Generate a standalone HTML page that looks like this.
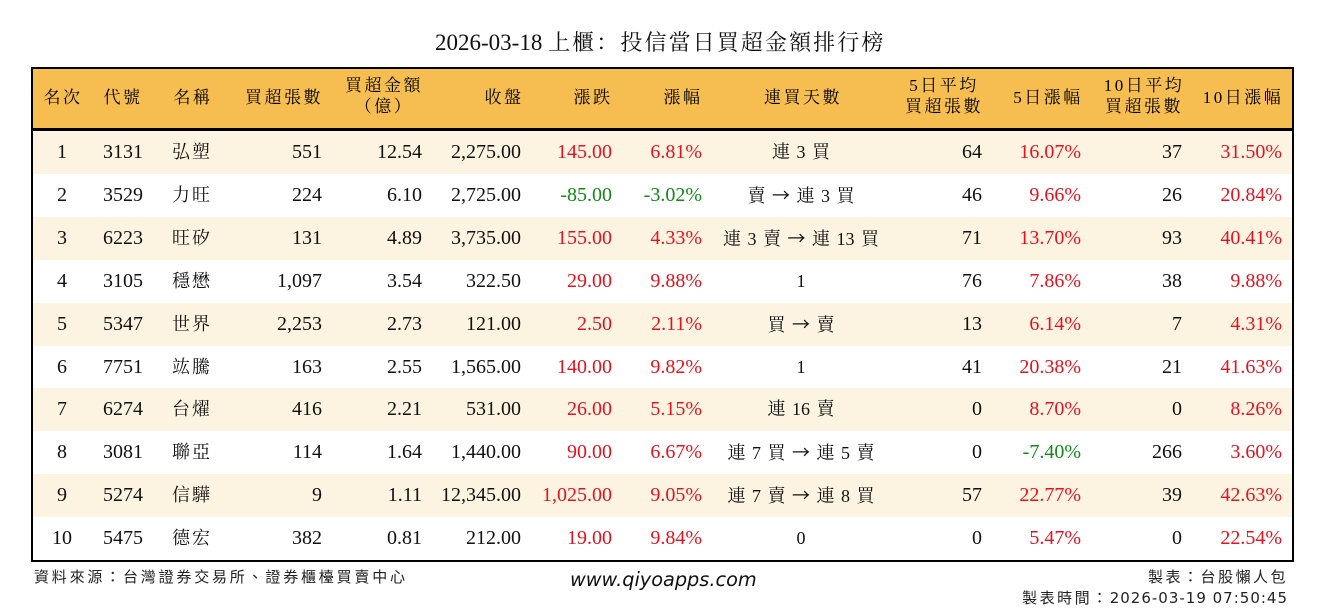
<!DOCTYPE html>
<html><head><meta charset="utf-8">
<style>
*{margin:0;padding:0;box-sizing:border-box}
body{width:1324px;height:612px;background:#fff;position:relative;overflow:hidden;font-family:"Liberation Serif","Noto Serif CJK SC",serif;color:#111}
.abs{position:absolute}
.title{left:435px;top:28px;font-size:23px;line-height:30px;white-space:nowrap;color:#111}
.title .cj{letter-spacing:2.1px;font-size:22px}
.box{left:31px;top:67px;width:1263px;height:495px;border:2px solid #000}
.hdr{left:33px;top:69px;width:1259px;height:59px;background:#F6BE50}
.hline{left:33px;top:128px;width:1259px;height:3px;background:#000}
.h{position:absolute;font-size:17px;letter-spacing:2.5px;white-space:nowrap;text-align:center;width:120px;line-height:20px;color:#000}
.row{position:absolute;left:33px;width:1259px;height:43px;font-size:20px;line-height:43px;white-space:nowrap}
.row.alt{background:#FDF3E1}
.row span{position:absolute;top:0}
.row span i{font-style:normal;font-family:"Noto Sans CJK SC","DejaVu Sans",sans-serif;font-size:18px}
.c1{left:0;width:58px;text-align:center}
.c2{left:70px}
.c3{left:139px;font-size:18px;letter-spacing:2px}
.c4{right:970px}
.c5{right:870px}
.c6{right:771px}
.c7{right:680px}
.c8{right:590px}
.c9{left:668px;width:200px;text-align:center;font-size:18px;word-spacing:2px}
.c10{right:310px}
.c11{right:211px}
.c12{right:110px}
.c13{right:10px}
.r{color:#E2131F}
.g{color:#16871A}
.foot{font-family:"Noto Sans CJK TC","Noto Sans CJK SC","DejaVu Sans",sans-serif;font-size:15px;color:#222;white-space:nowrap;line-height:20px}
.url{font-family:"DejaVu Sans",sans-serif;font-style:italic;font-size:19.3px;color:#111;line-height:24px;white-space:nowrap}
</style></head><body>
<div class="abs title">2026-03-18 <span class="cj">上櫃：投信當日買超金額排行榜</span></div>

<div class="abs hdr"></div>
<div class="abs hline"></div>

<div class="h" style="left:3px;top:88px">名次</div>
<div class="h" style="left:63px;top:88px">代號</div>
<div class="h" style="left:133px;top:88px">名稱</div>
<div class="h" style="left:224px;top:88px">買超張數</div>
<div class="h" style="left:324px;top:76px">買超金額</div>
<div class="h" style="left:324px;top:97px">（億）</div>
<div class="h" style="left:444px;top:88px">收盤</div>
<div class="h" style="left:533px;top:88px">漲跌</div>
<div class="h" style="left:623px;top:88px">漲幅</div>
<div class="h" style="left:743px;top:88px">連買天數</div>
<div class="h" style="left:884px;top:76px">5日平均</div>
<div class="h" style="left:884px;top:97px">買超張數</div>
<div class="h" style="left:988px;top:88px">5日漲幅</div>
<div class="h" style="left:1084px;top:76px">10日平均</div>
<div class="h" style="left:1084px;top:97px">買超張數</div>
<div class="h" style="left:1183px;top:88px">10日漲幅</div>

<div class="row alt" style="top:131px"><span class="c1">1</span><span class="c2">3131</span><span class="c3">弘塑</span><span class="c4">551</span><span class="c5">12.54</span><span class="c6">2,275.00</span><span class="c7 r">145.00</span><span class="c8 r">6.81%</span><span class="c9">連 3 買</span><span class="c10">64</span><span class="c11 r">16.07%</span><span class="c12">37</span><span class="c13 r">31.50%</span></div>
<div class="row" style="top:173.9px"><span class="c1">2</span><span class="c2">3529</span><span class="c3">力旺</span><span class="c4">224</span><span class="c5">6.10</span><span class="c6">2,725.00</span><span class="c7 g">-85.00</span><span class="c8 g">-3.02%</span><span class="c9">賣 <i>→</i> 連 3 買</span><span class="c10">46</span><span class="c11 r">9.66%</span><span class="c12">26</span><span class="c13 r">20.84%</span></div>
<div class="row alt" style="top:216.8px"><span class="c1">3</span><span class="c2">6223</span><span class="c3">旺矽</span><span class="c4">131</span><span class="c5">4.89</span><span class="c6">3,735.00</span><span class="c7 r">155.00</span><span class="c8 r">4.33%</span><span class="c9">連 3 賣 <i>→</i> 連 13 買</span><span class="c10">71</span><span class="c11 r">13.70%</span><span class="c12">93</span><span class="c13 r">40.41%</span></div>
<div class="row" style="top:259.7px"><span class="c1">4</span><span class="c2">3105</span><span class="c3">穩懋</span><span class="c4">1,097</span><span class="c5">3.54</span><span class="c6">322.50</span><span class="c7 r">29.00</span><span class="c8 r">9.88%</span><span class="c9">1</span><span class="c10">76</span><span class="c11 r">7.86%</span><span class="c12">38</span><span class="c13 r">9.88%</span></div>
<div class="row alt" style="top:302.6px"><span class="c1">5</span><span class="c2">5347</span><span class="c3">世界</span><span class="c4">2,253</span><span class="c5">2.73</span><span class="c6">121.00</span><span class="c7 r">2.50</span><span class="c8 r">2.11%</span><span class="c9">買 <i>→</i> 賣</span><span class="c10">13</span><span class="c11 r">6.14%</span><span class="c12">7</span><span class="c13 r">4.31%</span></div>
<div class="row" style="top:345.5px"><span class="c1">6</span><span class="c2">7751</span><span class="c3">竑騰</span><span class="c4">163</span><span class="c5">2.55</span><span class="c6">1,565.00</span><span class="c7 r">140.00</span><span class="c8 r">9.82%</span><span class="c9">1</span><span class="c10">41</span><span class="c11 r">20.38%</span><span class="c12">21</span><span class="c13 r">41.63%</span></div>
<div class="row alt" style="top:388.4px"><span class="c1">7</span><span class="c2">6274</span><span class="c3">台燿</span><span class="c4">416</span><span class="c5">2.21</span><span class="c6">531.00</span><span class="c7 r">26.00</span><span class="c8 r">5.15%</span><span class="c9">連 16 賣</span><span class="c10">0</span><span class="c11 r">8.70%</span><span class="c12">0</span><span class="c13 r">8.26%</span></div>
<div class="row" style="top:431.3px"><span class="c1">8</span><span class="c2">3081</span><span class="c3">聯亞</span><span class="c4">114</span><span class="c5">1.64</span><span class="c6">1,440.00</span><span class="c7 r">90.00</span><span class="c8 r">6.67%</span><span class="c9">連 7 買 <i>→</i> 連 5 賣</span><span class="c10">0</span><span class="c11 g">-7.40%</span><span class="c12">266</span><span class="c13 r">3.60%</span></div>
<div class="row alt" style="top:474.2px"><span class="c1">9</span><span class="c2">5274</span><span class="c3">信驊</span><span class="c4">9</span><span class="c5">1.11</span><span class="c6">12,345.00</span><span class="c7 r">1,025.00</span><span class="c8 r">9.05%</span><span class="c9">連 7 賣 <i>→</i> 連 8 買</span><span class="c10">57</span><span class="c11 r">22.77%</span><span class="c12">39</span><span class="c13 r">42.63%</span></div>
<div class="row" style="top:517.1px"><span class="c1">10</span><span class="c2">5475</span><span class="c3">德宏</span><span class="c4">382</span><span class="c5">0.81</span><span class="c6">212.00</span><span class="c7 r">19.00</span><span class="c8 r">9.84%</span><span class="c9">0</span><span class="c10">0</span><span class="c11 r">5.47%</span><span class="c12">0</span><span class="c13 r">22.54%</span></div>

<div class="abs box"></div>

<div class="abs foot" style="left:34px;top:567px;letter-spacing:2.8px">資料來源：台灣證券交易所、證券櫃檯買賣中心</div>
<div class="abs url" style="left:570px;top:568px">www.qiyoapps.com</div>
<div class="abs foot" style="right:36px;top:567px;letter-spacing:2.5px">製表：台股懶人包</div>
<div class="abs foot" style="right:36px;top:588px"><span style="letter-spacing:2.5px">製表時間：</span><span style="font-family:'DejaVu Sans',sans-serif;letter-spacing:1px">2026-03-19 07:50:45</span></div>
</body></html>
